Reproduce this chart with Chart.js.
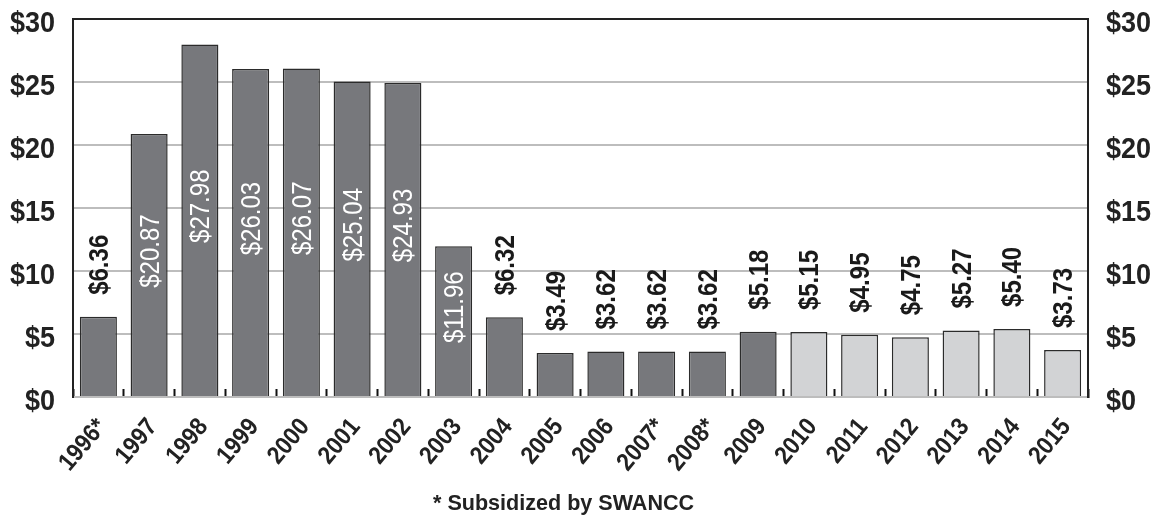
<!DOCTYPE html>
<html>
<head>
<meta charset="utf-8">
<script src="https://cdn.jsdelivr.net/npm/chart.js@4/dist/chart.umd.min.js"></script>
<style>
  html, body { margin: 0; padding: 0; background: #fff; }
  #wrap { position: relative; width: 1157px; height: 518px; }
  #note {
    position: absolute; left: 433px; top: 492px;
    font: bold 22px "Liberation Sans", Arial, sans-serif;
    line-height: 22px; color: #222; white-space: nowrap;
    transform: scaleX(0.98); transform-origin: left top;
  }
</style>
</head>
<body>
<div id="wrap">
  <canvas id="myChart" width="1157" height="518"></canvas>
  <div id="note">* Subsidized by SWANCC</div>
</div>
<script>
const years = ["1996*", "1997", "1998", "1999", "2000", "2001", "2002", "2003", "2004", "2005",
  "2006", "2007*", "2008*", "2009", "2010", "2011", "2012", "2013", "2014", "2015"];
const costs = [6.36, 20.87, 27.98, 26.03, 26.07, 25.04, 24.93, 11.96, 6.32, 3.49,
  3.62, 3.62, 3.62, 5.18, 5.15, 4.95, 4.75, 5.27, 5.40, 3.73];
const yTicks = [0, 5, 10, 15, 20, 25, 30];

const FONT = '"Liberation Sans", Arial, sans-serif';

// narrow text: the original uses a condensed face, so squeeze Liberation Sans
function narrowText(ctx, text, x, y, o) {
  ctx.save();
  ctx.translate(x, y);
  if (o.rotate) ctx.rotate(o.rotate);
  ctx.scale(o.sx, 1);
  ctx.font = (o.bold ? "bold " : "") + o.size + "px " + FONT;
  ctx.fillStyle = o.color;
  ctx.textAlign = o.align;
  ctx.textBaseline = "alphabetic";
  ctx.fillText(text, 0, o.dy || 0);
  ctx.restore();
}

const textLayer = {
  id: "textLayer",
  afterDraw(chart) {
    const ctx = chart.ctx;
    const area = chart.chartArea;
    const xs = chart.scales.x;
    const ys = chart.scales.y;

    // y tick labels, both sides
    yTicks.forEach((v) => {
      const y = ys.getPixelForValue(v) + 13;
      const o = { size: 30, bold: true, sx: 0.9, color: "#222" };
      narrowText(ctx, "$" + v, area.left - 18, y, Object.assign({ align: "right" }, o));
      narrowText(ctx, "$" + v, area.right + 18, y, Object.assign({ align: "left" }, o));
    });

    // x tick labels, slanted
    years.forEach((label, i) => {
      const x = xs.getPixelForTick(i) + 9;
      narrowText(ctx, label, x, area.bottom + 30, {
        size: 25, bold: true, sx: 0.9, color: "#222",
        align: "right", rotate: -50 * Math.PI / 180
      });
    });

    // value labels: inside the tall bars, above the short ones
    const meta = chart.getDatasetMeta(0);
    meta.data.forEach((bar, i) => {
      const v = costs[i];
      const inside = v >= 10;
      const o = { size: 27, sx: 0.89, rotate: -Math.PI / 2, dy: 9.5 };
      if (inside) {
        narrowText(ctx, "$" + v.toFixed(2), bar.x, (bar.y + bar.base) / 2 - 14,
          Object.assign(o, { align: "center", color: "#ffffff", bold: false }));
      } else {
        narrowText(ctx, "$" + v.toFixed(2), bar.x, bar.y - 22,
          Object.assign(o, { align: "left", color: "#1a1a1a", bold: true }));
      }
    });
  }
};

new Chart(document.getElementById("myChart"), {
  type: "bar",
  data: {
    labels: years,
    datasets: [{
      data: costs,
      backgroundColor: (c) => (c.dataIndex >= years.indexOf("2010") ? "#d2d3d5" : "#77787c"),
      borderColor: "#2b2b2b",
      borderWidth: 1.5,
      categoryPercentage: 1,
      barPercentage: 0.73
    }]
  },
  options: {
    responsive: false,
    animation: false,
    layout: { padding: { top: 19, left: 0, right: 0, bottom: 0 } },
    plugins: { legend: { display: false }, tooltip: { enabled: false } },
    scales: {
      x: {
        grid: {
          offset: true,
          drawOnChartArea: false,
          tickLength: -8,
          tickColor: "#111",
          tickWidth: 2
        },
        border: { display: true, color: "#bdbdbd", width: 2 },
        ticks: { display: false },
        afterFit: (scale) => { scale.height = 121; }
      },
      y: {
        position: "left",
        min: 0,
        max: 30,
        afterBuildTicks: (scale) => { scale.ticks = yTicks.map((v) => ({ value: v })); },
        grid: {
          color: (c) => (c.tick && c.tick.value === 30 ? "#222" : "#bdbdbd"),
          lineWidth: 2,
          drawTicks: false
        },
        border: { color: "#222", width: 2 },
        ticks: { display: false },
        afterFit: (scale) => { scale.width = 73; }
      },
      y2: {
        position: "right",
        min: 0,
        max: 30,
        afterBuildTicks: (scale) => { scale.ticks = yTicks.map((v) => ({ value: v })); },
        grid: { drawOnChartArea: false, drawTicks: false },
        border: { color: "#222", width: 2 },
        ticks: { display: false },
        afterFit: (scale) => { scale.width = 69; }
      }
    }
  },
  plugins: [textLayer]
});
</script>
</body>
</html>
